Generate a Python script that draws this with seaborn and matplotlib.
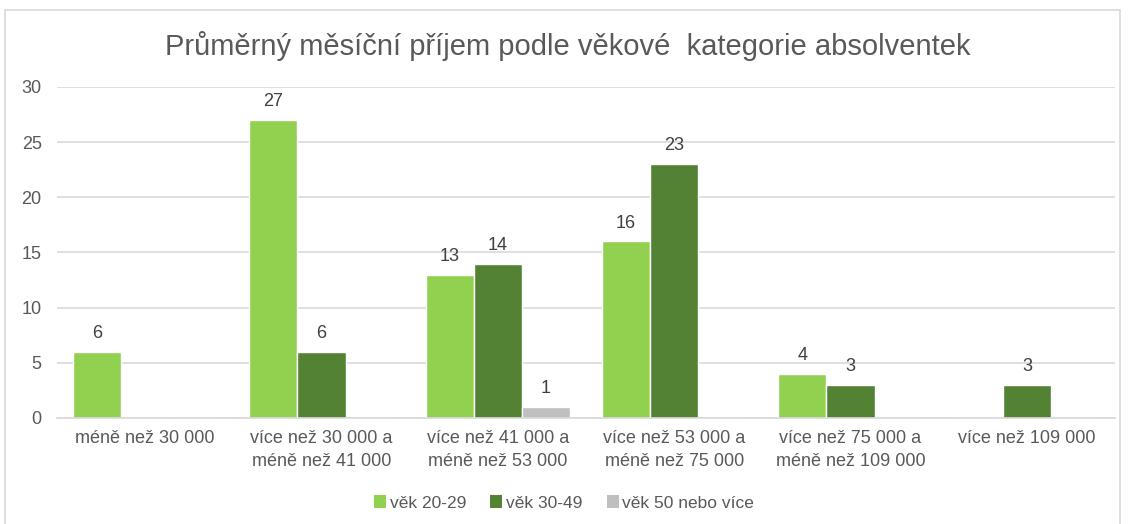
import numpy as np
import pandas as pd
import matplotlib.pyplot as plt
import seaborn as sns
from matplotlib.patches import Rectangle, Patch

# kategorie prijmu (osa x)
kategorie = ["méně než 30 000",
             "více než 30 000 a\nméně než 41 000",
             "více než 41 000 a\nméně než 53 000",
             "více než 53 000 a\nméně než 75 000",
             "více než 75 000 a\nméně než 109 000",
             "více než 109 000"]
skupiny = ["věk 20-29", "věk 30-49", "věk 50 nebo více"]
vek_20_29 = [6, 27, 13, 16, 4, 0]
vek_30_49 = [0, 6, 14, 23, 3, 3]
vek_50 = [0, 0, 1, 0, 0, 0]
barvy = ["#92D050", "#548235", "#BFBFBF"]

df = pd.DataFrame({
    "kategorie": kategorie * 3,
    "skupina": [skupiny[0]] * 6 + [skupiny[1]] * 6 + [skupiny[2]] * 6,
    "pocet": vek_20_29 + vek_30_49 + vek_50,
})

sns.set_theme(style="white")
plt.rcParams['font.family'] = ['Liberation Sans', 'DejaVu Sans']
sedy = "#595959"

fig = plt.figure(figsize=(11.28, 5.24), dpi=100)
ax = fig.add_axes([0.0505, 0.2023, 0.938, 0.6317])

sns.barplot(data=df, x="kategorie", y="pocet", hue="skupina", order=kategorie,
            hue_order=skupiny, palette=barvy, width=0.82, gap=0, saturation=1,
            legend=False, ax=ax)

for cont in ax.containers:
    popisky = [str(int(h)) if h > 0 else "" for h in cont.datavalues]
    ax.bar_label(cont, labels=popisky, padding=7, fontsize=13, color="#404040")

ax.set_ylim(0, 30)
ax.set_yticks([0, 5, 10, 15, 20, 25, 30])
ax.set_xlim(-0.5, 5.5)
ax.grid(axis="y", color="#D9D9D9", linewidth=1.2)
ax.set_axisbelow(True)
for s in ["top", "right", "left"]:
    ax.spines[s].set_visible(False)
ax.spines["bottom"].set_color("#D9D9D9")
ax.spines["bottom"].set_linewidth(1.2)
ax.tick_params(axis="both", length=0, labelsize=13, labelcolor=sedy)
ax.tick_params(axis="y", pad=11)
ax.tick_params(axis="x", pad=9)
for t in ax.get_xticklabels():
    t.set_linespacing(1.45)
ax.set_xlabel("")
ax.set_ylabel("")

fig.text(0.503, 0.912, "Průměrný měsíční příjem podle věkové  kategorie absolventek",
         ha="center", va="center", fontsize=21, color=sedy)

handles = [Patch(facecolor=c, edgecolor="none") for c in barvy]
fig.legend(handles, skupiny, loc="center", bbox_to_anchor=(0.5, 0.04), ncol=3,
           frameon=False, fontsize=12.5, labelcolor=sedy, handlelength=0.7,
           handleheight=0.7, handletextpad=0.2, columnspacing=1.4)

fig.patches.append(Rectangle((0.0045, -0.01), 0.988, 0.99, transform=fig.transFigure,
                             fill=False, edgecolor="#D9D9D9", linewidth=1.2))

fig.savefig("out.png", dpi=100, facecolor="white")
